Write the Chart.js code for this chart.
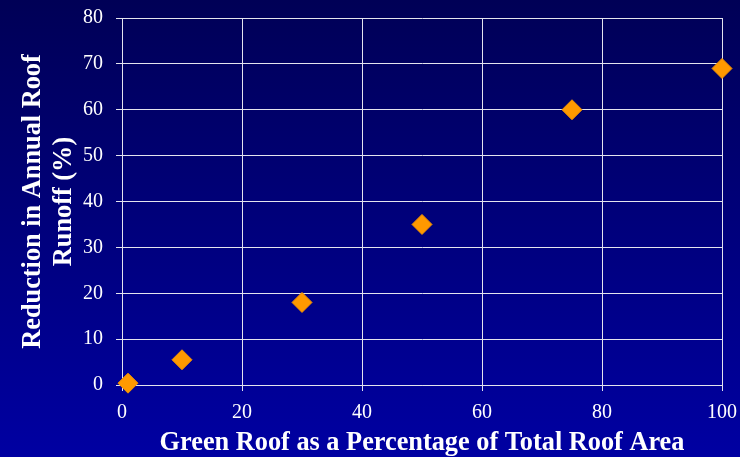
<!DOCTYPE html>
<html>
<head>
<meta charset="utf-8">
<script src="https://cdn.jsdelivr.net/npm/chart.js@4/dist/chart.umd.min.js"></script>
<style>
  html, body { margin: 0; padding: 0; background: #00006a; }
  #wrap { width: 740px; height: 457px; position: relative; }
</style>
</head>
<body>
<div id="wrap"><canvas id="c" width="740" height="457"></canvas></div>
<script>
// Green roof coverage (%) vs reduction in annual roof runoff (%)
const greenRoofPct = [1, 10, 30, 50, 75, 100];
const runoffReduction = [0.4, 5.5, 18, 35, 60, 69];
const xTitle = 'Green Roof as a Percentage of Total Roof Area';
const yTitle = ['Reduction in Annual Roof', 'Runoff (%)'];

const points = greenRoofPct.map((x, i) => ({ x: x, y: runoffReduction[i] }));

const backdrop = {
  id: 'backdrop',
  beforeDraw(chart) {
    const ctx = chart.ctx;
    const g = ctx.createLinearGradient(0, 0, 0, chart.height);
    g.addColorStop(0, '#000056');
    g.addColorStop(1, '#0000a2');
    ctx.save();
    ctx.fillStyle = g;
    ctx.fillRect(0, 0, chart.width, chart.height);
    ctx.restore();
  }
};

const tickFont = { family: '"Liberation Serif", "Times New Roman", serif', size: 20 };
const titleFont = { family: '"Liberation Serif", "Times New Roman", serif', size: 26.3, weight: 'bold' };
const gridColor = '#e4e4ee';

new Chart(document.getElementById('c'), {
  type: 'scatter',
  data: {
    datasets: [{
      data: points,
      clip: false,
      pointStyle: 'rectRot',
      pointRadius: 10,
      pointHoverRadius: 10,
      backgroundColor: '#ff9900',
      borderColor: '#f09000',
      borderWidth: 1
    }]
  },
  options: {
    responsive: false,
    animation: false,
    layout: { padding: { top: 18, right: 18, left: 6, bottom: 0 } },
    plugins: { legend: { display: false }, tooltip: { enabled: false } },
    scales: {
      x: {
        type: 'linear',
        min: 0, max: 100,
        ticks: { stepSize: 20, color: '#ffffff', font: tickFont, padding: 10, maxRotation: 0 },
        grid: { color: gridColor, lineWidth: 1, tickLength: 6, tickColor: gridColor },
        border: { color: gridColor, width: 1 },
        title: { display: true, text: xTitle, color: '#ffffff', font: titleFont, padding: { top: 0, bottom: -2 } },
        afterFit(s) {
          s.height = 457 - 385;
          s.paddingLeft = 0;
          s.paddingRight = 0;
        }
      },
      y: {
        type: 'linear',
        min: 0, max: 80,
        ticks: { stepSize: 10, color: '#ffffff', font: tickFont, padding: 13 },
        grid: { color: gridColor, lineWidth: 1, tickLength: 6, tickColor: gridColor },
        border: { color: gridColor, width: 1 },
        title: { display: true, text: yTitle, color: '#ffffff', font: titleFont, padding: { top: 11, bottom: 0 } },
        afterFit(s) {
          s.width = 122 - 6;
          s.paddingTop = 0;
          s.paddingBottom = 0;
        }
      }
    }
  },
  plugins: [backdrop]
});
</script>
</body>
</html>
